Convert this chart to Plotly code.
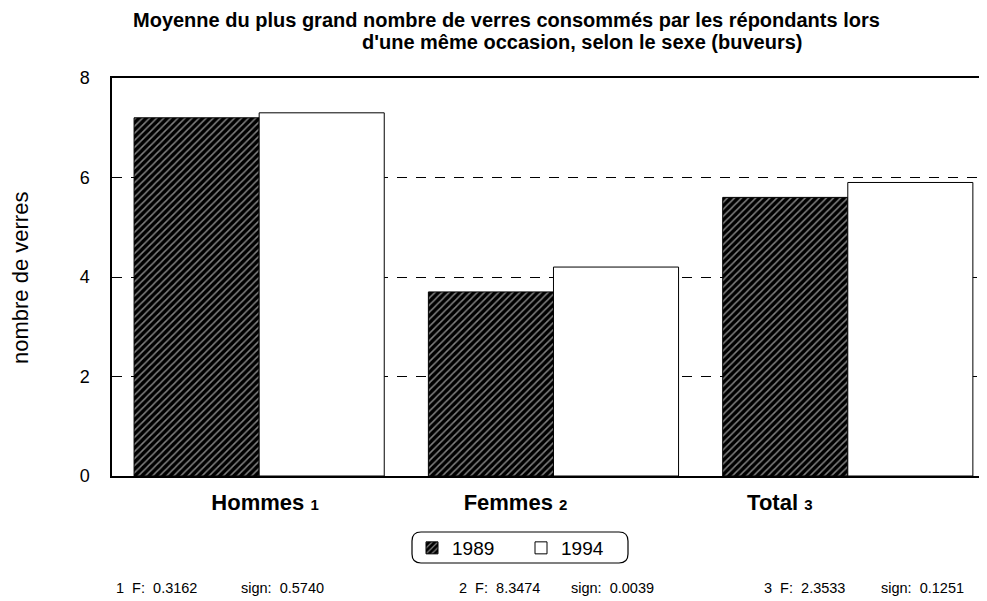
import plotly.graph_objects as go

# data
categories = ['Hommes', 'Femmes', 'Total']
note_numbers = ['1', '2', '3']
years = ['1989', '1994']
values_1989 = [7.2, 3.7, 5.6]
values_1994 = [7.3, 4.2, 5.9]
f_values = ['0.3162', '8.3474', '2.3533']
sign_values = ['0.5740', '0.0039', '0.1251']

title_lines = [
    'Moyenne du plus grand nombre de verres consommés par les répondants lors',
    "d'une même occasion, selon le sexe (buveurs)",
]
y_title = 'nombre de verres'

FONT = 'Liberation Sans, Arial, sans-serif'

# the page puts the figure 8px from the window corner
OFF = 8
PL, PT, PR, PB = 112, 78, 987, 476   # plot area in window pixels

def px_x(X):
    return (X - PL) / (PR - PL)

def px_y(Y):
    return (PB - Y) / (PB - PT)

x_pos = list(range(len(categories)))

fig = go.Figure()
fig.add_trace(go.Bar(
    x = x_pos,
    y = values_1989,
    name = years[0],
    marker = dict(
        color = 'black',
        line = dict(color = 'black', width = 1),
        pattern = dict(shape = '/', fgcolor = 'white', bgcolor = 'black',
                       size = 5, solidity = 0.3, fillmode = 'overlay')
    )
))
fig.add_trace(go.Bar(
    x = x_pos,
    y = values_1994,
    name = years[1],
    marker = dict(color = 'white', line = dict(color = 'black', width = 1))
))

# label positions (slightly off-centre, like the original)
label_pos = [0.02, 0.871, 1.769]
tick_text = [f'<b>{c}</b> <span style="font-size:15px"><b>{n}</b></span>'
             for c, n in zip(categories, note_numbers)]

fig.update_layout(
    width = 987 - OFF,
    height = 601 - OFF,
    margin = dict(l = PL - OFF, r = 0, t = PT - OFF, b = 601 - PB),
    plot_bgcolor = 'white',
    paper_bgcolor = 'white',
    barmode = 'group',
    bargap = 0.15,
    bargroupgap = 0,
    font = dict(family = FONT, color = 'black'),
    xaxis = dict(
        range = [-0.5, 2.473],
        tickvals = label_pos,
        ticktext = tick_text,
        tickfont = dict(size = 22, family = FONT),
        ticks = 'outside',
        ticklen = 0,
        ticklabelstandoff = 6,
        showline = True,
        linecolor = 'black',
        linewidth = 1.5,
        mirror = True,
        showgrid = False,
        zeroline = False
    ),
    yaxis = dict(
        range = [0, 8],
        tickvals = [0, 2, 4, 6, 8],
        tickfont = dict(size = 18, family = FONT),
        ticks = 'outside',
        ticklen = 0,
        ticklabelstandoff = 17,
        showline = True,
        linecolor = 'black',
        linewidth = 1.5,
        showgrid = True,
        gridcolor = 'black',
        gridwidth = 1,
        griddash = '10px,9px',
        zeroline = False
    ),
    legend = dict(
        orientation = 'h',
        x = px_x(412),
        y = px_y(548),
        xanchor = 'left',
        yanchor = 'middle',
        font = dict(size = 19, family = FONT),
        bgcolor = 'rgba(0,0,0,0)',
        entrywidth = 64,
        entrywidthmode = 'pixels',
        traceorder = 'normal'
    ),
    showlegend = True
)

# title (two separately centred lines)
fig.add_annotation(text = f'<b>{title_lines[0]}</b>', xref = 'paper', yref = 'paper',
                   x = px_x(506), y = px_y(20), xanchor = 'center', yanchor = 'middle',
                   showarrow = False, font = dict(size = 20, family = FONT))
fig.add_annotation(text = f'<b>{title_lines[1]}</b>', xref = 'paper', yref = 'paper',
                   x = px_x(582), y = px_y(42), xanchor = 'center', yanchor = 'middle',
                   showarrow = False, font = dict(size = 20, family = FONT))

# y axis title
fig.add_annotation(text = y_title, xref = 'paper', yref = 'paper',
                   x = px_x(20), y = px_y(278), xanchor = 'center', yanchor = 'middle',
                   textangle = -90, showarrow = False, font = dict(size = 22, family = FONT))

# rounded legend frame
x0, x1 = px_x(412), px_x(628)
y0, y1 = px_y(563), px_y(532)
rx, ry = 9 / (PR - PL), 9 / (PB - PT)
path = (f'M {x0 + rx} {y1} L {x1 - rx} {y1} Q {x1} {y1} {x1} {y1 - ry} '
        f'L {x1} {y0 + ry} Q {x1} {y0} {x1 - rx} {y0} L {x0 + rx} {y0} '
        f'Q {x0} {y0} {x0} {y0 + ry} L {x0} {y1 - ry} Q {x0} {y1} {x0 + rx} {y1} Z')
fig.add_shape(type = 'path', path = path, xref = 'paper', yref = 'paper',
              line = dict(color = 'black', width = 1.2))

# footnotes
f_left = [114, 457, 762]
s_left = [239, 569, 879]
for i in range(len(categories)):
    fig.add_annotation(text = f'{note_numbers[i]}&nbsp;&nbsp;F:&nbsp;&nbsp;{f_values[i]}',
                       xref = 'paper', yref = 'paper',
                       x = px_x(f_left[i]), y = px_y(588),
                       xanchor = 'left', yanchor = 'middle', showarrow = False,
                       font = dict(size = 14.5, family = FONT))
    fig.add_annotation(text = f'sign:&nbsp;&nbsp;{sign_values[i]}',
                       xref = 'paper', yref = 'paper',
                       x = px_x(s_left[i]), y = px_y(588),
                       xanchor = 'left', yanchor = 'middle', showarrow = False,
                       font = dict(size = 14.5, family = FONT))

fig.write_html('out.html')
